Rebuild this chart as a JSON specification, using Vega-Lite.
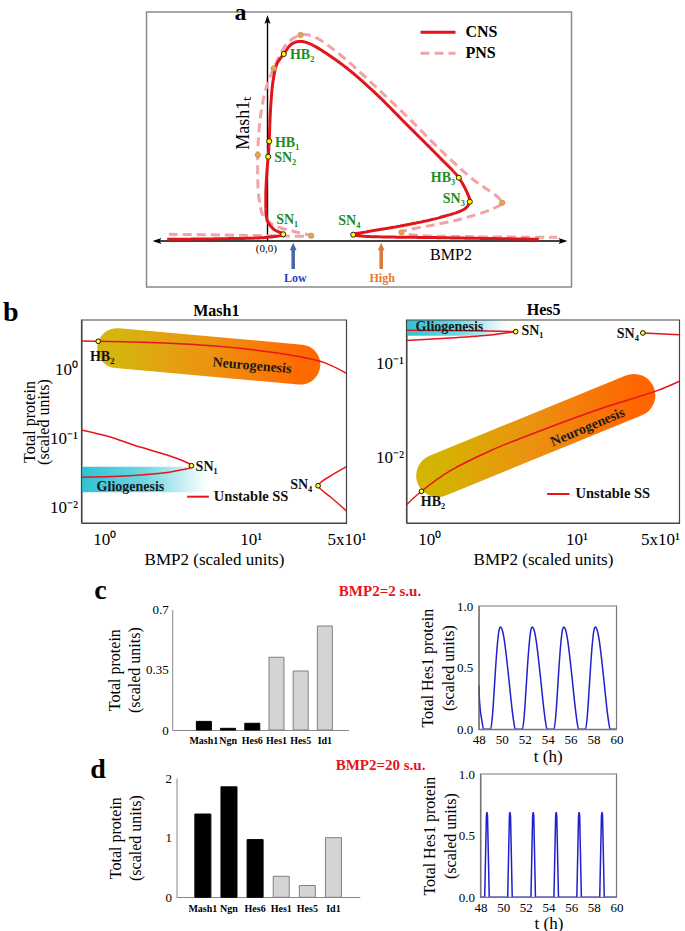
{
"$schema": "https://vega.github.io/schema/vega-lite/v6.json",
"padding": {"left": 2.5, "top": 1, "right": 0, "bottom": 0},
"columns": 2,
"bounds": "flush",
"spacing": 0,
"config": {
  "font": "Liberation Serif",
  "view": {"stroke": null},
  "axis": {"labelColor": "#000", "titleColor": "#000", "titleFontWeight": "normal", "grid": false, "labelFont": "Liberation Serif", "titleFont": "Liberation Serif", "labelOverlap": false},
  "title": {"font": "Liberation Serif", "color": "#000"}
},
"concat": [
{
  "width": 325, "height": 308,
  "resolve": {"scale": {"color": "independent", "strokeDash": "independent"}},
  "encoding": {
    "x": {"field": "x", "type": "quantitative", "scale": {"domain": [-186, 139], "nice": false, "zero": false}, "axis": null},
    "y": {"field": "y", "type": "quantitative", "scale": {"domain": [-79, 229], "nice": false, "zero": false}, "axis": null}
  },
  "layer": [
    {"data": {"values": [{"x": -121, "x2": 304, "y": -46, "y2": 229}]},
     "mark": {"type": "rect", "filled": false, "stroke": "#8a8a8a", "strokeWidth": 1.5},
     "encoding": {"x2": {"field": "x2"}, "y2": {"field": "y2"}}},
    {"data": {"values": [{"x": -112, "x2": 296, "y": 0, "y2": 0}, {"x": 0, "x2": 0, "y": 0, "y2": 221}]},
     "mark": {"type": "rule", "color": "#000", "strokeWidth": 1.4},
     "encoding": {"x2": {"field": "x2"}, "y2": {"field": "y2"}}},
    {"data": {"values": [{"x": 0, "y": 221, "dir": "up"}, {"x": -110, "y": 0, "dir": "left"}, {"x": 295, "y": 0, "dir": "right"}]},
     "mark": {"type": "point", "filled": true, "color": "#000", "size": 100, "opacity": 1},
     "encoding": {"shape": {"field": "dir", "type": "nominal", "scale": {"domain": ["up", "left", "right"], "range": ["M0,-1L0.6,0.8L0,0.4L-0.6,0.8Z", "M-1,0L0.8,-0.6L0.4,0L0.8,0.6Z", "M1,0L-0.8,-0.6L-0.4,0L-0.8,0.6Z"]}, "legend": null}}},
    {"data": {"values": [
      {"series": "PNS", "o": 1, "x": -98.7, "y": 6.7}, {"series": "PNS", "o": 2, "x": -43.7, "y": 6}, {"series": "PNS", "o": 3, "x": -0.3, "y": 5.3}, {"series": "PNS", "o": 4, "x": 43.7, "y": 5.3},
      {"series": "PNS", "o": 5, "x": 29.7, "y": 8.7}, {"series": "PNS", "o": 6, "x": 9.7, "y": 14.3}, {"series": "PNS", "o": 7, "x": -3, "y": 22.7}, {"series": "PNS", "o": 8, "x": -8.3, "y": 41},
      {"series": "PNS", "o": 9, "x": -9.7, "y": 86}, {"series": "PNS", "o": 10, "x": -7, "y": 124.3}, {"series": "PNS", "o": 11, "x": -1, "y": 154.3}, {"series": "PNS", "o": 12, "x": 6.3, "y": 172.7},
      {"series": "PNS", "o": 13, "x": 19.7, "y": 197.7}, {"series": "PNS", "o": 14, "x": 33, "y": 206}, {"series": "PNS", "o": 15, "x": 46.3, "y": 204.3}, {"series": "PNS", "o": 16, "x": 73, "y": 186},
      {"series": "PNS", "o": 17, "x": 106.3, "y": 156}, {"series": "PNS", "o": 18, "x": 139.7, "y": 124.3}, {"series": "PNS", "o": 19, "x": 173, "y": 91}, {"series": "PNS", "o": 20, "x": 206.3, "y": 61},
      {"series": "PNS", "o": 21, "x": 229.7, "y": 44.3}, {"series": "PNS", "o": 22, "x": 234.7, "y": 38.3}, {"series": "PNS", "o": 23, "x": 226.3, "y": 32.7}, {"series": "PNS", "o": 24, "x": 189.7, "y": 21},
      {"series": "PNS", "o": 25, "x": 134, "y": 8.7}, {"series": "PNS", "o": 26, "x": 146.3, "y": 6}, {"series": "PNS", "o": 27, "x": 206.3, "y": 4.3}, {"series": "PNS", "o": 28, "x": 289.7, "y": 3.7},
      {"series": "CNS", "o": 1, "x": -100.3, "y": 1.7}, {"series": "CNS", "o": 2, "x": -43.7, "y": 2.3}, {"series": "CNS", "o": 3, "x": -0.3, "y": 3.7}, {"series": "CNS", "o": 4, "x": 15.7, "y": 6.7},
      {"series": "CNS", "o": 5, "x": 6.3, "y": 11.7}, {"series": "CNS", "o": 6, "x": -0.3, "y": 21}, {"series": "CNS", "o": 7, "x": -1.7, "y": 41}, {"series": "CNS", "o": 8, "x": -0.7, "y": 67.7},
      {"series": "CNS", "o": 9, "x": 0.7, "y": 84.3}, {"series": "CNS", "o": 10, "x": 1.7, "y": 99.7}, {"series": "CNS", "o": 11, "x": 3, "y": 131}, {"series": "CNS", "o": 12, "x": 5.7, "y": 161},
      {"series": "CNS", "o": 13, "x": 9.7, "y": 177.7}, {"series": "CNS", "o": 14, "x": 16.3, "y": 187}, {"series": "CNS", "o": 15, "x": 23, "y": 196}, {"series": "CNS", "o": 16, "x": 29.7, "y": 199.3},
      {"series": "CNS", "o": 17, "x": 39.7, "y": 198.3}, {"series": "CNS", "o": 18, "x": 73, "y": 177.7}, {"series": "CNS", "o": 19, "x": 106.3, "y": 149.3}, {"series": "CNS", "o": 20, "x": 139.7, "y": 116},
      {"series": "CNS", "o": 21, "x": 173, "y": 82.7}, {"series": "CNS", "o": 22, "x": 191.3, "y": 63.3}, {"series": "CNS", "o": 23, "x": 201.3, "y": 44.3}, {"series": "CNS", "o": 24, "x": 202.3, "y": 39.3},
      {"series": "CNS", "o": 25, "x": 198, "y": 32.7}, {"series": "CNS", "o": 26, "x": 173, "y": 23.7}, {"series": "CNS", "o": 27, "x": 133, "y": 15}, {"series": "CNS", "o": 28, "x": 99.7, "y": 9.3},
      {"series": "CNS", "o": 29, "x": 85.7, "y": 6.3}, {"series": "CNS", "o": 30, "x": 93, "y": 5}, {"series": "CNS", "o": 31, "x": 173, "y": 3.3}, {"series": "CNS", "o": 32, "x": 271.3, "y": 1.7}
     ]},
     "mark": {"type": "line", "interpolate": "catmull-rom", "strokeWidth": 3},
     "encoding": {
       "order": {"field": "o", "type": "quantitative"},
       "detail": {"field": "series", "type": "nominal"},
       "color": {"field": "series", "type": "nominal", "scale": {"domain": ["CNS", "PNS"], "range": ["#e3141b", "#f4a3a3"]}, "legend": null},
       "strokeDash": {"field": "series", "type": "nominal", "scale": {"domain": ["CNS", "PNS"], "range": [[1, 0], [9, 5]]}, "legend": null}
     }},
    {"data": {"values": [{"series": "CNS", "x": 153, "x2": 188, "y": 208.7}, {"series": "PNS", "x": 153, "x2": 188, "y": 187.7}]},
     "mark": {"type": "rule", "strokeWidth": 3},
     "encoding": {
       "x2": {"field": "x2"},
       "color": {"field": "series", "type": "nominal", "scale": {"domain": ["CNS", "PNS"], "range": ["#e3141b", "#f4a3a3"]}, "legend": null},
       "strokeDash": {"field": "series", "type": "nominal", "scale": {"domain": ["CNS", "PNS"], "range": [[1, 0], [9, 5]]}, "legend": null}
     }},
    {"data": {"values": [{"x": 198, "y": 208.7, "t": "CNS"}, {"x": 198, "y": 187.7, "t": "PNS"}]},
     "mark": {"type": "text", "align": "left", "baseline": "middle", "fontSize": 16, "fontWeight": "bold", "color": "#000"},
     "encoding": {"text": {"field": "t"}}},
    {"data": {"values": [{"x": 43.7, "y": 5.3}, {"x": -9.7, "y": 86}, {"x": 6.3, "y": 172.7}, {"x": 33, "y": 206}, {"x": 234.7, "y": 38.3}, {"x": 134, "y": 8.7}]},
     "mark": {"type": "circle", "size": 28, "color": "#e6a45a", "opacity": 1, "stroke": "#c98a4a", "strokeWidth": 0.8}},
    {"data": {"values": [{"x": 16.3, "y": 187}, {"x": 1.7, "y": 99.7}, {"x": 0.7, "y": 84.3}, {"x": 191.3, "y": 63.3}, {"x": 202.3, "y": 39.3}, {"x": 15.7, "y": 6.7}, {"x": 85.7, "y": 6.3}]},
     "mark": {"type": "circle", "size": 26, "color": "#ffff00", "opacity": 1, "stroke": "#222", "strokeWidth": 1}},
    {"data": {"values": [{"x": 34.7, "y": 186, "t": "HB₂"}, {"x": 19.7, "y": 98.3, "t": "HB₁"}, {"x": 17.7, "y": 82.7, "t": "SN₂"}, {"x": 175.5, "y": 62.7, "t": "HB₃"}, {"x": 186.3, "y": 41.7, "t": "SN₃"}, {"x": 19.7, "y": 21, "t": "SN₁"}, {"x": 81.8, "y": 20.3, "t": "SN₄"}]},
     "mark": {"type": "text", "align": "center", "baseline": "middle", "fontSize": 14, "fontWeight": "bold", "color": "#228b22"},
     "encoding": {"text": {"field": "t"}}},
    {"data": {"values": [{"x": -23.7, "y": 117.7, "t": "Mash1ₜ"}]},
     "mark": {"type": "text", "align": "center", "baseline": "middle", "fontSize": 18, "angle": 270, "color": "#000"},
     "encoding": {"text": {"field": "t"}}},
    {"data": {"values": [{"x": 183.5, "y": -13.7, "t": "BMP2"}]},
     "mark": {"type": "text", "align": "center", "baseline": "middle", "fontSize": 16, "color": "#000"},
     "encoding": {"text": {"field": "t"}}},
    {"data": {"values": [{"x": -1.2, "y": -8.3, "t": "(0,0)"}]},
     "mark": {"type": "text", "align": "center", "baseline": "middle", "fontSize": 11, "color": "#000"},
     "encoding": {"text": {"field": "t"}}},
    {"data": {"values": [{"x": 25.7, "y": -28, "y2": -6, "t": "Low"}, {"x": 113.7, "y": -28, "y2": -6, "t": "High"}]},
     "mark": {"type": "rule", "strokeWidth": 3.5},
     "encoding": {"y2": {"field": "y2"}, "color": {"field": "t", "type": "nominal", "scale": {"domain": ["Low", "High"], "range": ["#4a66a8", "#d9783a"]}, "legend": null}}},
    {"data": {"values": [{"x": 25.7, "y": -6, "t": "Low"}, {"x": 113.7, "y": -6, "t": "High"}]},
     "mark": {"type": "point", "filled": true, "size": 70, "opacity": 1, "shape": "M0,-1L0.8,0.8L-0.8,0.8Z"},
     "encoding": {"color": {"field": "t", "type": "nominal", "scale": {"domain": ["Low", "High"], "range": ["#4a66a8", "#d9783a"]}, "legend": null}}},
    {"data": {"values": [{"x": 27.8, "y": -37.3, "t": "Low"}, {"x": 114.7, "y": -37.3, "t": "High"}]},
     "mark": {"type": "text", "align": "center", "baseline": "middle", "fontSize": 12, "fontWeight": "bold"},
     "encoding": {"text": {"field": "t"}, "color": {"field": "t", "type": "nominal", "scale": {"domain": ["Low", "High"], "range": ["#2b3fc2", "#e8782a"]}, "legend": null}}},
    {"data": {"values": [{"x": -27, "y": 221, "t": "a"}]},
     "mark": {"type": "text", "align": "center", "baseline": "alphabetic", "fontSize": 24, "fontWeight": "bold", "color": "#000"},
     "encoding": {"text": {"field": "t"}}}
  ]
},
{
  "width": 1, "height": 1,
  "data": {"values": [{}]},
  "mark": {"type": "text", "text": ""}
},
{
  "width": 265, "height": 286,
  "encoding": {
    "x": {"field": "x", "type": "quantitative", "scale": {"type": "log", "domain": [0.7, 45], "nice": false},
          "axis": {"orient": "bottom", "offset": -83, "values": [1, 10, 45], "labelExpr": "datum.value == 1 ? '10⁰' : datum.value == 10 ? '10¹' : '5x10¹'", "labelFontSize": 17, "labelFlush": false, "ticks": false, "domainColor": "#444", "labelPadding": 8, "title": "BMP2 (scaled units)", "titleFontSize": 17, "titlePadding": 4}},
    "y": {"field": "y", "type": "quantitative", "scale": {"type": "log", "domain": [0.0059, 5.35], "range": [203, 0], "nice": false},
          "axis": {"orient": "left", "values": [0.01, 0.1, 1], "labelExpr": "datum.value == 1 ? '10⁰' : datum.value == 0.1 ? '10⁻¹' : '10⁻²'", "labelFontSize": 17, "labelFlush": false, "ticks": false, "domainColor": "#444", "labelPadding": 4, "title": ["Total protein", "(scaled units)"], "titleFontSize": 16, "titleLineHeight": 14, "titlePadding": -2}}
  },
  "layer": [
    {"data": {"values": [{"x": 0.7, "x2": 5.07, "y": 0.0165, "y2": 0.039}]},
     "mark": {"type": "rect", "fill": {"gradient": "linear", "stops": [{"offset": 0, "color": "#2ec3d3"}, {"offset": 0.5, "color": "#6fd6e2"}, {"offset": 1, "color": "#ffffff"}]}},
     "encoding": {"x2": {"field": "x2"}, "y2": {"field": "y2"}}},
    {"data": {"values": [{"x": 1.227, "y": 2.08, "o": 1}, {"x": 21.8, "y": 1.2, "o": 2}]},
     "mark": {"type": "line", "strokeWidth": 40, "strokeCap": "round", "stroke": {"gradient": "linear", "stops": [{"offset": 0, "color": "#d6b50f"}, {"offset": 0.5, "color": "#ec9312"}, {"offset": 1, "color": "#ff6a00"}]}},
     "encoding": {"order": {"field": "o", "type": "quantitative"}}},
    {"data": {"values": [
      {"seg": "up", "o": 1, "x": 0.7, "y": 2.64}, {"seg": "up", "o": 2, "x": 0.91, "y": 2.62}, {"seg": "up", "o": 3, "x": 2.07, "y": 2.51}, {"seg": "up", "o": 4, "x": 4.54, "y": 2.31},
      {"seg": "up", "o": 5, "x": 9.95, "y": 1.99}, {"seg": "up", "o": 6, "x": 21.8, "y": 1.56}, {"seg": "up", "o": 7, "x": 32.4, "y": 1.26}, {"seg": "up", "o": 8, "x": 45, "y": 0.895},
      {"seg": "sn1", "o": 1, "x": 0.7, "y": 0.1336}, {"seg": "sn1", "o": 2, "x": 1.1, "y": 0.1057}, {"seg": "sn1", "o": 3, "x": 1.585, "y": 0.0807}, {"seg": "sn1", "o": 4, "x": 2.69, "y": 0.0577},
      {"seg": "sn1", "o": 5, "x": 3.48, "y": 0.0472}, {"seg": "sn1", "o": 6, "x": 3.85, "y": 0.0425}, {"seg": "sn1", "o": 7, "x": 3.94, "y": 0.0403}, {"seg": "sn1", "o": 8, "x": 3.85, "y": 0.0375},
      {"seg": "sn1", "o": 9, "x": 3.31, "y": 0.0349}, {"seg": "sn1", "o": 10, "x": 2.69, "y": 0.0321}, {"seg": "sn1", "o": 11, "x": 1.585, "y": 0.029}, {"seg": "sn1", "o": 12, "x": 0.7, "y": 0.0273},
      {"seg": "sn4", "o": 1, "x": 45, "y": 0.039}, {"seg": "sn4", "o": 2, "x": 35, "y": 0.0286}, {"seg": "sn4", "o": 3, "x": 30.5, "y": 0.0236}, {"seg": "sn4", "o": 4, "x": 28.8, "y": 0.0206},
      {"seg": "sn4", "o": 5, "x": 30.5, "y": 0.0178}, {"seg": "sn4", "o": 6, "x": 35, "y": 0.0141}, {"seg": "sn4", "o": 7, "x": 45, "y": 0.00883}
     ]},
     "mark": {"type": "line", "interpolate": "catmull-rom", "color": "#e8141c", "strokeWidth": 1.5},
     "encoding": {"order": {"field": "o", "type": "quantitative"}, "detail": {"field": "seg", "type": "nominal"}}},
    {"data": {"values": [{"x": 3.68, "x2": 5.18, "y": 0.01426}]},
     "mark": {"type": "rule", "color": "#e8141c", "strokeWidth": 2},
     "encoding": {"x2": {"field": "x2"}}},
    {"data": {"values": [{"x": 0.91, "y": 2.62}, {"x": 3.94, "y": 0.0403}, {"x": 28.8, "y": 0.0206}]},
     "mark": {"type": "circle", "size": 22, "color": "#ffff33", "opacity": 1, "stroke": "#111", "strokeWidth": 1}},
    {"data": {"values": [{"x": 0.969, "y": 1.56, "t": "HB₂"}, {"x": 5.0, "y": 0.039, "t": "SN₁"}, {"x": 22.1, "y": 0.0211, "t": "SN₄"}]},
     "mark": {"type": "text", "align": "center", "baseline": "middle", "fontSize": 14, "fontWeight": "bold", "color": "#111"},
     "encoding": {"text": {"field": "t"}}},
    {"data": {"values": [{"x": 10.2, "y": 1.153, "t": "Neurogenesis"}]},
     "mark": {"type": "text", "align": "center", "baseline": "middle", "fontSize": 14, "fontWeight": "bold", "angle": 5, "color": "#1a1a1a"},
     "encoding": {"text": {"field": "t"}}},
    {"data": {"values": [{"x": 1.51, "y": 0.01995, "t": "Gliogenesis"}]},
     "mark": {"type": "text", "align": "center", "baseline": "middle", "fontSize": 14, "fontWeight": "bold", "color": "#1a1a1a"},
     "encoding": {"text": {"field": "t"}}},
    {"data": {"values": [{"x": 5.6, "y": 0.01426, "t": "Unstable SS"}]},
     "mark": {"type": "text", "align": "left", "baseline": "middle", "fontSize": 14.5, "fontWeight": "bold", "color": "#111"},
     "encoding": {"text": {"field": "t"}}},
    {"data": {"values": [{"x": 5.82, "y": 6.11, "t": "Mash1"}]},
     "mark": {"type": "text", "align": "center", "baseline": "alphabetic", "fontSize": 16, "fontWeight": "bold", "color": "#000"},
     "encoding": {"text": {"field": "t"}}},
    {"data": {"values": [{"x": 0.2039, "y": 5.17, "t": "b"}]},
     "mark": {"type": "text", "align": "left", "baseline": "alphabetic", "fontSize": 28, "fontWeight": "bold", "color": "#000"},
     "encoding": {"text": {"field": "t"}}},
    {"data": {"values": [{"x": 0.7, "x2": 45, "y": 0.0059, "y2": 5.35}]},
     "mark": {"type": "rect", "filled": false, "stroke": "#444", "strokeWidth": 1.2},
     "encoding": {"x2": {"field": "x2"}, "y2": {"field": "y2"}}}
  ]
},
{
  "width": 273, "height": 286,
  "encoding": {
    "x": {"field": "x", "type": "quantitative", "scale": {"type": "log", "domain": [0.7, 50], "nice": false},
          "axis": {"orient": "bottom", "offset": -83, "values": [1, 10, 50], "labelExpr": "datum.value == 1 ? '10⁰' : datum.value == 10 ? '10¹' : '5x10¹'", "labelFontSize": 17, "labelFlush": true, "ticks": false, "domainColor": "#444", "labelPadding": 8, "title": "BMP2 (scaled units)", "titleFontSize": 17, "titlePadding": 4}},
    "y": {"field": "y", "type": "quantitative", "scale": {"type": "log", "domain": [0.00198, 0.296], "range": [203, 0], "nice": false},
          "axis": {"orient": "left", "values": [0.01, 0.1], "labelExpr": "datum.value == 0.1 ? '10⁻¹' : '10⁻²'", "labelFontSize": 17, "labelFlush": false, "ticks": false, "domainColor": "#444", "labelPadding": 3, "title": null}}
  },
  "layer": [
    {"data": {"values": [{"x": 0.7, "x2": 3.38, "y": 0.201, "y2": 0.296}]},
     "mark": {"type": "rect", "fill": {"gradient": "linear", "stops": [{"offset": 0, "color": "#2ec3d3"}, {"offset": 0.5, "color": "#6fd6e2"}, {"offset": 1, "color": "#ffffff"}]}},
     "encoding": {"x2": {"field": "x2"}, "y2": {"field": "y2"}}},
    {"data": {"values": [{"x": 1.14, "y": 0.00637, "o": 1}, {"x": 24.5, "y": 0.0461, "o": 2}]},
     "mark": {"type": "line", "strokeWidth": 43, "strokeCap": "round", "stroke": {"gradient": "linear", "stops": [{"offset": 0, "color": "#d4b400"}, {"offset": 0.5, "color": "#ec9010"}, {"offset": 1, "color": "#ff6600"}]}},
     "encoding": {"order": {"field": "o", "type": "quantitative"}}},
    {"data": {"values": [
      {"seg": "ga", "o": 1, "x": 0.7, "y": 0.23}, {"seg": "ga", "o": 2, "x": 2, "y": 0.227}, {"seg": "ga", "o": 3, "x": 3.86, "y": 0.222},
      {"seg": "gb", "o": 1, "x": 0.7, "y": 0.178}, {"seg": "gb", "o": 2, "x": 1.39, "y": 0.19}, {"seg": "gb", "o": 3, "x": 2.6, "y": 0.205}, {"seg": "gb", "o": 4, "x": 3.5, "y": 0.218}, {"seg": "gb", "o": 5, "x": 3.86, "y": 0.222},
      {"seg": "s4", "o": 1, "x": 28.2, "y": 0.215}, {"seg": "s4", "o": 2, "x": 50, "y": 0.206},
      {"seg": "mn", "o": 1, "x": 0.7, "y": 0.00311}, {"seg": "mn", "o": 2, "x": 0.885, "y": 0.00433}, {"seg": "mn", "o": 3, "x": 1.39, "y": 0.00719}, {"seg": "mn", "o": 4, "x": 2.6, "y": 0.01178},
      {"seg": "mn", "o": 5, "x": 5.69, "y": 0.0193}, {"seg": "mn", "o": 6, "x": 16.1, "y": 0.035}, {"seg": "mn", "o": 7, "x": 35.3, "y": 0.0518}, {"seg": "mn", "o": 8, "x": 50, "y": 0.0653}
     ]},
     "mark": {"type": "line", "interpolate": "catmull-rom", "color": "#e8141c", "strokeWidth": 1.5},
     "encoding": {"order": {"field": "o", "type": "quantitative"}, "detail": {"field": "seg", "type": "nominal"}}},
    {"data": {"values": [{"x": 6.31, "x2": 8.95, "y": 0.00405}]},
     "mark": {"type": "rule", "color": "#e8141c", "strokeWidth": 2},
     "encoding": {"x2": {"field": "x2"}}},
    {"data": {"values": [{"x": 0.885, "y": 0.00433}, {"x": 3.86, "y": 0.222}, {"x": 28.2, "y": 0.215}]},
     "mark": {"type": "circle", "size": 22, "color": "#ffff33", "opacity": 1, "stroke": "#111", "strokeWidth": 1}},
    {"data": {"values": [{"x": 1.06, "y": 0.0033, "t": "HB₂"}, {"x": 5.02, "y": 0.2277, "t": "SN₁"}, {"x": 22.3, "y": 0.21, "t": "SN₄"}]},
     "mark": {"type": "text", "align": "center", "baseline": "middle", "fontSize": 14, "fontWeight": "bold", "color": "#111"},
     "encoding": {"text": {"field": "t"}}},
    {"data": {"values": [{"x": 11.9, "y": 0.021, "t": "Neurogenesis"}]},
     "mark": {"type": "text", "align": "center", "baseline": "middle", "fontSize": 14, "fontWeight": "bold", "angle": 337, "color": "#1a1a1a"},
     "encoding": {"text": {"field": "t"}}},
    {"data": {"values": [{"x": 1.37, "y": 0.248, "t": "Gliogenesis"}]},
     "mark": {"type": "text", "align": "center", "baseline": "middle", "fontSize": 14, "fontWeight": "bold", "color": "#1a1a1a"},
     "encoding": {"text": {"field": "t"}}},
    {"data": {"values": [{"x": 9.84, "y": 0.00405, "t": "Unstable SS"}]},
     "mark": {"type": "text", "align": "left", "baseline": "middle", "fontSize": 14.5, "fontWeight": "bold", "color": "#111"},
     "encoding": {"text": {"field": "t"}}},
    {"data": {"values": [{"x": 5.98, "y": 0.3357, "t": "Hes5"}]},
     "mark": {"type": "text", "align": "center", "baseline": "alphabetic", "fontSize": 16, "fontWeight": "bold", "color": "#000"},
     "encoding": {"text": {"field": "t"}}},
    {"data": {"values": [{"x": 0.7, "x2": 50, "y": 0.00198, "y2": 0.296}]},
     "mark": {"type": "rect", "filled": false, "stroke": "#444", "strokeWidth": 1.2},
     "encoding": {"x2": {"field": "x2"}, "y2": {"field": "y2"}}}
  ]
},
{
  "width": 267, "height": 168,
  "data": {"values": [
    {"gene": "Mash1", "value": 0.05, "kind": "pro"}, {"gene": "Ngn", "value": 0.0097, "kind": "pro"}, {"gene": "Hes6", "value": 0.039, "kind": "pro"},
    {"gene": "Hes1", "value": 0.422, "kind": "anti"}, {"gene": "Hes5", "value": 0.342, "kind": "anti"}, {"gene": "Id1", "value": 0.603, "kind": "anti"}
  ]},
  "mark": {"type": "bar", "strokeWidth": 1},
  "encoding": {
    "x": {"field": "gene", "type": "nominal", "sort": null, "scale": {"range": [90.7, 267], "paddingInner": 0.38, "paddingOuter": 0.833, "align": 0.6},
          "axis": {"orient": "bottom", "offset": -44, "labelAngle": 0, "labelFontSize": 10, "labelFontWeight": "bold", "ticks": false, "domainColor": "#888", "title": null, "labelPadding": 5}},
    "y": {"field": "value", "type": "quantitative", "scale": {"domain": [0, 0.7], "range": [124, 3.3], "nice": false},
          "axis": {"offset": -90.7, "values": [0, 0.35, 0.7], "labelExpr": "datum.value == 0 ? '0' : datum.value == 0.35 ? '0.35' : '0.7'", "labelFontSize": 13, "ticks": false, "domainColor": "#888", "labelPadding": 4, "title": ["Total protein", "(scaled units)"], "titleFontSize": 16, "titleLineHeight": 20, "titlePadding": 3}},
    "color": {"field": "kind", "type": "nominal", "scale": {"domain": ["pro", "anti"], "range": ["#000000", "#d4d4d4"]}, "legend": null},
    "stroke": {"field": "kind", "type": "nominal", "scale": {"domain": ["pro", "anti"], "range": ["#000000", "#808080"]}, "legend": null}
  }
},
{
  "width": 210, "height": 168,
  "encoding": {
    "x": {"field": "x", "type": "quantitative", "scale": {"domain": [48, 60], "range": [72.3, 210], "nice": false, "zero": false},
          "axis": {"orient": "bottom", "offset": -44.7, "values": [48, 50, 52, 54, 56, 58, 60], "format": "d", "labelFontSize": 13, "labelFlush": false, "ticks": false, "domainColor": "#777", "labelPadding": 4, "title": "t (h)", "titleFontSize": 17, "titlePadding": 2}},
    "y": {"field": "y", "type": "quantitative", "scale": {"domain": [0, 1], "range": [123.3, 0], "nice": false, "zero": false},
          "axis": {"orient": "left", "offset": -72.3, "values": [0, 0.5, 1], "format": ".1f", "labelFontSize": 13, "labelFlush": false, "ticks": false, "domainColor": "#777", "labelPadding": 6, "title": ["Total Hes1 protein", "(scaled units)"], "titleFontSize": 16, "titleLineHeight": 21, "titlePadding": 0}}
  },
  "layer": [
    {"data": {"values": [
      {"x": 48.0, "y": 0.36}, {"x": 48.07, "y": 0.22}, {"x": 48.27, "y": 0.07}, {"x": 48.42, "y": 0}, {"x": 49.03, "y": 0},
      {"x": 49.18, "y": 0.1}, {"x": 49.33, "y": 0.3}, {"x": 49.48, "y": 0.52}, {"x": 49.63, "y": 0.7}, {"x": 49.78, "y": 0.81}, {"x": 49.88, "y": 0.83},
      {"x": 50.03, "y": 0.81}, {"x": 50.23, "y": 0.72}, {"x": 50.43, "y": 0.57}, {"x": 50.63, "y": 0.4}, {"x": 50.83, "y": 0.22}, {"x": 51.03, "y": 0.07}, {"x": 51.18, "y": 0}, {"x": 51.8, "y": 0},
      {"x": 51.95, "y": 0.1}, {"x": 52.1, "y": 0.3}, {"x": 52.25, "y": 0.52}, {"x": 52.4, "y": 0.7}, {"x": 52.55, "y": 0.81}, {"x": 52.65, "y": 0.83},
      {"x": 52.8, "y": 0.81}, {"x": 53.0, "y": 0.72}, {"x": 53.2, "y": 0.57}, {"x": 53.4, "y": 0.4}, {"x": 53.6, "y": 0.22}, {"x": 53.8, "y": 0.07}, {"x": 53.95, "y": 0}, {"x": 54.55, "y": 0},
      {"x": 54.7, "y": 0.1}, {"x": 54.85, "y": 0.3}, {"x": 55.0, "y": 0.52}, {"x": 55.15, "y": 0.7}, {"x": 55.3, "y": 0.81}, {"x": 55.4, "y": 0.83},
      {"x": 55.55, "y": 0.81}, {"x": 55.75, "y": 0.72}, {"x": 55.95, "y": 0.57}, {"x": 56.15, "y": 0.4}, {"x": 56.35, "y": 0.22}, {"x": 56.55, "y": 0.07}, {"x": 56.7, "y": 0}, {"x": 57.3, "y": 0},
      {"x": 57.45, "y": 0.1}, {"x": 57.6, "y": 0.3}, {"x": 57.75, "y": 0.52}, {"x": 57.9, "y": 0.7}, {"x": 58.05, "y": 0.81}, {"x": 58.15, "y": 0.83},
      {"x": 58.3, "y": 0.81}, {"x": 58.5, "y": 0.72}, {"x": 58.7, "y": 0.57}, {"x": 58.9, "y": 0.4}, {"x": 59.1, "y": 0.22}, {"x": 59.3, "y": 0.07}, {"x": 59.45, "y": 0}, {"x": 60.0, "y": 0}
     ]},
     "mark": {"type": "line", "interpolate": "monotone", "color": "#2020cc", "strokeWidth": 1.5}},
    {"data": {"values": [{"x": 39.39, "y": 1.122, "t": "BMP2=2 s.u."}]},
     "mark": {"type": "text", "align": "center", "baseline": "middle", "fontSize": 15, "fontWeight": "bold", "color": "#e8141c"},
     "encoding": {"text": {"field": "t"}}},
    {"data": {"values": [{"x": 15.04, "y": 1.122, "t": "c"}]},
     "mark": {"type": "text", "align": "center", "baseline": "middle", "fontSize": 28, "fontWeight": "bold", "color": "#000"},
     "encoding": {"text": {"field": "t"}}},
    {"data": {"values": [{"x": 48, "x2": 60, "y": 0, "y2": 1}]},
     "mark": {"type": "rect", "filled": false, "stroke": "#777", "strokeWidth": 1.2},
     "encoding": {"x2": {"field": "x2"}, "y2": {"field": "y2"}}}
  ]
},
{
  "width": 278.3, "height": 123,
  "data": {"values": [
    {"gene": "Mash1", "value": 1.396, "kind": "pro"}, {"gene": "Ngn", "value": 1.852, "kind": "pro"}, {"gene": "Hes6", "value": 0.967, "kind": "pro"},
    {"gene": "Hes1", "value": 0.352, "kind": "anti"}, {"gene": "Hes5", "value": 0.198, "kind": "anti"}, {"gene": "Id1", "value": 1.0, "kind": "anti"}
  ]},
  "mark": {"type": "bar", "strokeWidth": 1},
  "encoding": {
    "x": {"field": "gene", "type": "nominal", "sort": null, "scale": {"range": [95, 278.3], "paddingInner": 0.387, "paddingOuter": 0.703, "align": 0.5},
          "axis": {"orient": "bottom", "labelAngle": 0, "labelFontSize": 10, "labelFontWeight": "bold", "ticks": false, "domainColor": "#888", "title": null, "labelPadding": 6}},
    "y": {"field": "value", "type": "quantitative", "scale": {"domain": [0, 2], "range": [123.3, 4], "nice": false},
          "axis": {"offset": -95, "values": [0, 1, 2], "labelExpr": "datum.value == 0 ? '0' : datum.value == 1 ? '1' : '2'", "labelFontSize": 13, "ticks": false, "domainColor": "#888", "labelPadding": 5, "title": ["Total protein", "(scaled units)"], "titleFontSize": 16, "titleLineHeight": 20, "titlePadding": 22}},
    "color": {"field": "kind", "type": "nominal", "scale": {"domain": ["pro", "anti"], "range": ["#000000", "#d4d4d4"]}, "legend": null},
    "stroke": {"field": "kind", "type": "nominal", "scale": {"domain": ["pro", "anti"], "range": ["#000000", "#808080"]}, "legend": null}
  }
},
{
  "width": 210, "height": 123,
  "encoding": {
    "x": {"field": "x", "type": "quantitative", "scale": {"domain": [48, 60], "range": [74, 210], "nice": false, "zero": false},
          "axis": {"orient": "bottom", "values": [48, 50, 52, 54, 56, 58, 60], "format": "d", "labelFontSize": 13, "labelFlush": false, "ticks": false, "domainColor": "#777", "labelPadding": 4, "title": "t (h)", "titleFontSize": 17, "titlePadding": 1}},
    "y": {"field": "y", "type": "quantitative", "scale": {"domain": [0, 1], "range": [123.3, 0], "nice": false, "zero": false},
          "axis": {"orient": "left", "offset": -74, "values": [0, 0.5, 1], "format": ".1f", "labelFontSize": 13, "labelFlush": false, "ticks": false, "domainColor": "#777", "labelPadding": 6, "title": ["Total Hes1 protein", "(scaled units)"], "titleFontSize": 16, "titleLineHeight": 21, "titlePadding": 0}}
  },
  "layer": [
    {"data": {"values": [
      {"x": 48.0, "y": 0}, {"x": 48.37, "y": 0}, {"x": 48.52, "y": 0.66}, {"x": 48.57, "y": 0.69}, {"x": 48.62, "y": 0.66}, {"x": 48.77, "y": 0},
      {"x": 50.4, "y": 0}, {"x": 50.55, "y": 0.66}, {"x": 50.6, "y": 0.69}, {"x": 50.65, "y": 0.66}, {"x": 50.8, "y": 0},
      {"x": 52.45, "y": 0}, {"x": 52.6, "y": 0.66}, {"x": 52.65, "y": 0.69}, {"x": 52.7, "y": 0.66}, {"x": 52.85, "y": 0},
      {"x": 54.48, "y": 0}, {"x": 54.63, "y": 0.66}, {"x": 54.68, "y": 0.69}, {"x": 54.73, "y": 0.66}, {"x": 54.88, "y": 0},
      {"x": 56.5, "y": 0}, {"x": 56.65, "y": 0.66}, {"x": 56.7, "y": 0.69}, {"x": 56.75, "y": 0.66}, {"x": 56.9, "y": 0},
      {"x": 58.52, "y": 0}, {"x": 58.67, "y": 0.66}, {"x": 58.72, "y": 0.69}, {"x": 58.77, "y": 0.66}, {"x": 58.92, "y": 0}, {"x": 60.0, "y": 0}
     ]},
     "mark": {"type": "line", "color": "#2020cc", "strokeWidth": 1.5}},
    {"data": {"values": [{"x": 39.18, "y": 1.073, "t": "BMP2=20 s.u."}]},
     "mark": {"type": "text", "align": "center", "baseline": "middle", "fontSize": 15, "fontWeight": "bold", "color": "#e8141c"},
     "encoding": {"text": {"field": "t"}}},
    {"data": {"values": [{"x": 14.25, "y": 1.032, "t": "d"}]},
     "mark": {"type": "text", "align": "center", "baseline": "middle", "fontSize": 28, "fontWeight": "bold", "color": "#000"},
     "encoding": {"text": {"field": "t"}}},
    {"data": {"values": [{"x": 48, "x2": 60, "y": 0, "y2": 1}]},
     "mark": {"type": "rect", "filled": false, "stroke": "#777", "strokeWidth": 1.2},
     "encoding": {"x2": {"field": "x2"}, "y2": {"field": "y2"}}}
  ]
}
]
}
